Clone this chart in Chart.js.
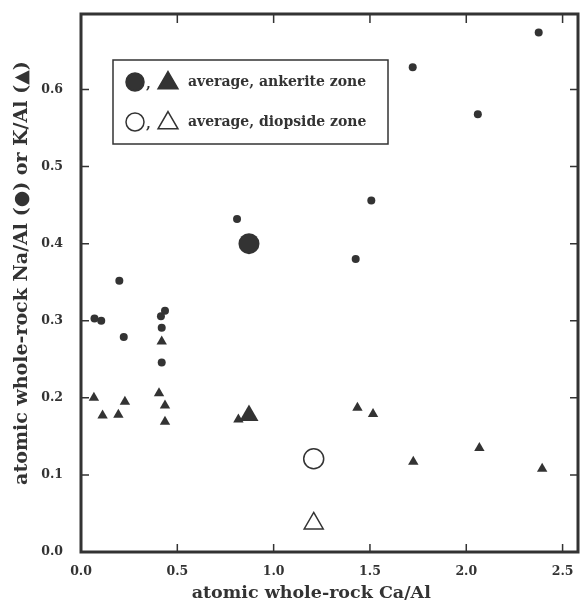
<!DOCTYPE html>
<html>
<head>
<meta charset="utf-8">
<script src="https://cdn.jsdelivr.net/npm/chart.js@4/dist/chart.umd.min.js"></script>
<style>
  html, body { margin: 0; padding: 0; background: #fff; overflow: hidden; }
  canvas { display: block; }
</style>
</head>
<body>
<canvas id="ctx" width="581" height="612"></canvas>
<script>
// individual samples: Ca/Al against Na/Al (circles)
const naCaAl = [0.07, 0.105, 0.199, 0.222, 0.436, 0.415, 0.419, 0.419, 0.81, 1.426, 1.507, 1.722, 2.06, 2.376];
const naAl   = [0.303, 0.300, 0.352, 0.279, 0.313, 0.306, 0.291, 0.246, 0.432, 0.380, 0.456, 0.629, 0.568, 0.674];
// individual samples: Ca/Al against K/Al (triangles)
const kCaAl = [0.067, 0.112, 0.194, 0.228, 0.405, 0.436, 0.436, 0.419, 0.817, 1.435, 1.516, 1.725, 2.068, 2.394];
const kAl   = [0.200, 0.177, 0.178, 0.195, 0.206, 0.190, 0.169, 0.273, 0.172, 0.187, 0.179, 0.117, 0.135, 0.108];
// zone averages
const ankeriteCaAl = [0.872];
const ankeriteNa = [0.400];
const ankeriteK = [0.177];
const diopsideCaAl = [1.208];
const diopsideNa = [0.121];
const diopsideK = [0.037];

const legendRows = ['average, ankerite zone', 'average, diopside zone'];
const xTitle = 'atomic whole-rock Ca/Al';
const yTitle = 'atomic whole-rock Na/Al (\u25CF) or K/Al (\u25B2)';

const ink = '#333';
const serif = "'DejaVu Serif', serif";

function pts(xs, ys) {
    return xs.map((x, i) => ({x: x, y: ys[i]}));
}

function marker(ctx, style, x, y, r, filled) {
    ctx.beginPath();
    if (style === 'circle') {
        ctx.arc(x, y, r, 0, Math.PI * 2);
    } else {
        let a = 0;
        ctx.moveTo(x + Math.sin(a) * r, y - Math.cos(a) * r);
        a += Math.PI * 2 / 3;
        ctx.lineTo(x + Math.sin(a) * r, y - Math.cos(a) * r);
        a += Math.PI * 2 / 3;
        ctx.lineTo(x + Math.sin(a) * r, y - Math.cos(a) * r);
        ctx.closePath();
    }
    ctx.fillStyle = filled ? ink : '#fff';
    ctx.fill();
    ctx.lineWidth = 1.5;
    ctx.strokeStyle = ink;
    ctx.stroke();
}

// frame, inward ticks on all four sides, and the boxed key
const frame = {
    id: 'frame',
    afterDatasetsDraw(chart) {
        const {ctx, chartArea: a, scales} = chart;
        ctx.save();
        ctx.strokeStyle = ink;
        ctx.lineWidth = 1.5;
        scales.x.ticks.forEach(t => {
            const px = scales.x.getPixelForValue(t.value);
            ctx.beginPath();
            ctx.moveTo(px, a.bottom); ctx.lineTo(px, a.bottom - 8);
            ctx.moveTo(px, a.top); ctx.lineTo(px, a.top + 9);
            ctx.stroke();
        });
        scales.y.ticks.forEach(t => {
            const py = scales.y.getPixelForValue(t.value);
            ctx.beginPath();
            ctx.moveTo(a.left, py); ctx.lineTo(a.left + 8, py);
            ctx.moveTo(a.right, py); ctx.lineTo(a.right - 8, py);
            ctx.stroke();
        });
        ctx.lineWidth = 3;
        ctx.strokeRect(a.left, a.top, a.right - a.left, a.bottom - a.top);

        // key
        const bx = a.left + 32, by = a.top + 46;
        ctx.lineWidth = 1.5;
        ctx.strokeRect(bx, by, 275, 84);
        ctx.font = 'bold 14px ' + serif;
        ctx.textBaseline = 'middle';
        legendRows.forEach((txt, i) => {
            const cy = by + 22 + i * 40;
            marker(ctx, 'circle', bx + 22, cy, 9, i === 0);
            ctx.fillStyle = ink;
            ctx.textAlign = 'left';
            ctx.fillText(',', bx + 33, cy + 2);
            marker(ctx, 'triangle', bx + 55, cy + 1, 11.5, i === 0);
            ctx.fillStyle = ink;
            ctx.fillText(txt, bx + 75, cy);
        });
        ctx.restore();
    }
};

new Chart(document.getElementById('ctx'), {
    type: 'scatter',
    data: {
        datasets: [
            {label: 'Na/Al', data: pts(naCaAl, naAl), pointStyle: 'circle', pointRadius: 4,
                backgroundColor: ink, borderColor: ink, borderWidth: 0},
            {label: 'K/Al', data: pts(kCaAl, kAl), pointStyle: 'triangle', pointRadius: 6,
                backgroundColor: ink, borderColor: ink, borderWidth: 0},
            {label: 'ankerite Na/Al', data: pts(ankeriteCaAl, ankeriteNa), pointStyle: 'circle', pointRadius: 10.5,
                backgroundColor: ink, borderColor: ink, borderWidth: 0},
            {label: 'ankerite K/Al', data: pts(ankeriteCaAl, ankeriteK), pointStyle: 'triangle', pointRadius: 11,
                backgroundColor: ink, borderColor: ink, borderWidth: 0},
            {label: 'diopside Na/Al', data: pts(diopsideCaAl, diopsideNa), pointStyle: 'circle', pointRadius: 10,
                backgroundColor: '#fff', borderColor: ink, borderWidth: 1.5},
            {label: 'diopside K/Al', data: pts(diopsideCaAl, diopsideK), pointStyle: 'triangle', pointRadius: 11,
                backgroundColor: '#fff', borderColor: ink, borderWidth: 1.5}
        ]
    },
    options: {
        responsive: false,
        animation: false,
        devicePixelRatio: 1,
        layout: {autoPadding: false, padding: {top: 14, right: 3, left: 0, bottom: 0}},
        plugins: {legend: {display: false}, tooltip: {enabled: false}},
        scales: {
            x: {
                type: 'linear',
                min: 0,
                max: 2.58,
                grid: {display: false, drawTicks: false},
                border: {display: false},
                ticks: {
                    stepSize: 0.5,
                    includeBounds: false,
                    padding: 12,
                    color: ink,
                    font: {family: serif, size: 12.5, weight: 'bold'},
                    callback: v => v.toFixed(1)
                },
                title: {
                    display: true,
                    // trailing spaces nudge the centred title left, as in the original
                    text: xTitle + '      ',
                    color: ink,
                    padding: {top: 0, bottom: 8},
                    font: {family: serif, size: 17.5, weight: 'bold'}
                },
                afterFit: s => { s.height = 60; s.paddingLeft = 0; s.paddingRight = 0; }
            },
            y: {
                type: 'linear',
                min: 0,
                max: 0.698,
                grid: {display: false, drawTicks: false},
                border: {display: false},
                ticks: {
                    stepSize: 0.1,
                    includeBounds: false,
                    padding: 18,
                    color: ink,
                    font: {family: serif, size: 12.5, weight: 'bold'},
                    callback: v => v.toFixed(1)
                },
                title: {
                    display: true,
                    text: '   ' + yTitle,
                    color: ink,
                    padding: {top: 11, bottom: 0},
                    font: {family: serif, size: 19, weight: 'bold'}
                },
                afterFit: s => { s.width = 81; s.paddingTop = 0; s.paddingBottom = 0; }
            }
        }
    },
    plugins: [frame]
});
</script>
</body>
</html>
